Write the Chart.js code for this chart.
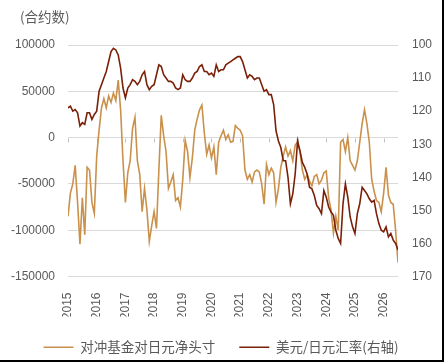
<!DOCTYPE html>
<html>
<head>
<meta charset="utf-8">
<script src="https://cdn.jsdelivr.net/npm/chart.js@4/dist/chart.umd.min.js"></script>
<style>
  html, body { margin: 0; padding: 0; background: #fff; }
  #wrap { width: 444px; height: 362px; box-sizing: border-box; border-right: 2px solid #000; border-bottom: 2px solid #000; }
</style>
</head>
<body>
<div id="wrap"><canvas id="myChart" width="442" height="360"></canvas></div>
<script>
// monthly samples, Jan 2015 .. Jul 2026
const START_YEAR = 2015;
const yearTicks = [2015, 2016, 2017, 2018, 2019, 2020, 2021, 2022, 2023, 2024, 2025, 2026];

// hedge fund net JPY position (contracts)
const netPosition = [
  -85000, -60000, -50000, -30000, -70000, -115000, -65000, -105000, -32000, -35000, -70000, -82000,
  -20000, 8000, 32000, 42000, 32000, 45000, 38000, 48000, 40000, 62000, 30000, -25000,
  -70000, -38000, -25000, 10000, 22000, -25000, -40000, -80000, -55000, -78000, -112000, -95000,
  -80000, -98000, -35000, 24000, 2000, -15000, -55000, -48000, -40000, -68000, -65000, -75000,
  -45000, -3000, -15000, -43000, -22000, 8000, 20000, 30000, 35000, 5000, -18000, -8000,
  -22000, -10000, -40000, -5000, 2000, 8000, -2000, 3000, -5000, -4000, 13000, 10000,
  8000, 2000, -35000, -45000, -40000, -48000, -37000, -35000, -37000, -50000, -72000, -29000,
  -40000, -33000, -38000, -70000, -55000, -32000, -20000, -10000, -20000, -14000, -25000, -8000,
  -5000, -15000, -35000, -45000, -40000, -47000, -52000, -42000, -40000, -50000, -46000, -38000,
  -36000, -65000, -78000, -103000, -85000, -100000, -5000, -2000, -15000, 0, -25000, -30000,
  -35000, -25000, -5000, 15000, 30000, 15000, -5000, -45000, -58000, -68000, -70000, -80000,
  -60000, -32000, -62000, -70000, -72000, -100000, -135000
];

// USD/JPY (right axis, inverted)
const usdJpy = [
  119, 118.5, 120, 119.5, 120.5, 124.5, 123.5, 124, 120.5, 120.5, 122.5, 121,
  120, 114, 112, 110, 108, 105, 102, 101, 101.5, 103, 107, 113,
  116, 113, 112, 110.5, 111, 112, 111, 109, 108, 112, 113.5, 112.5,
  112, 109, 106, 106.5, 109, 110, 111, 111, 111.5, 113, 113.5, 113,
  109, 110.5, 111, 111, 110, 108.5, 108, 106.5, 106, 108, 108, 109,
  108.5, 109.5, 106, 108, 107.5, 107.5, 106, 105.5, 105, 104.5, 104, 103.5,
  103.5, 105, 107.5, 110, 109, 109.5, 110.5, 110, 110, 112, 114, 113.5,
  115, 115, 118, 126, 129, 131, 135, 135, 140, 148, 145, 139,
  129, 132, 135.5, 137, 139, 143, 143.5, 145.5, 148.5, 149.5, 151, 144,
  146, 149, 150.5, 151.5, 156, 158.5, 160, 148, 142, 146, 152, 155,
  157, 151, 148, 143, 144, 145, 146.5, 147.5, 147, 151, 154, 156,
  156.5, 155, 158, 157, 159, 160, 162
];

const TAN = 'rgb(201, 145, 76)';
const MAROON = 'rgb(122, 32, 8)';
const TEXT = '#595959';
const GRID = '#d9d9d9';

const toPoints = arr => arr.map((v, i) => ({x: START_YEAR + i / 12, y: v}));

const titlePlugin = {
  id: 'unitTitle',
  afterDraw(chart) {
    const ctx = chart.ctx;
    ctx.save();
    ctx.fillStyle = TEXT;
    ctx.font = '13.5px "Noto Sans CJK SC"';
    ctx.textBaseline = 'middle';
    ctx.fillText('(合约数)', 20, 17);
    ctx.restore();
  }
};

// small tick marks where the category axis crosses at 0
const zeroTicks = {
  id: 'zeroTicks',
  beforeDatasetsDraw(chart) {
    const {ctx, scales: {x, y}} = chart;
    const y0 = Math.round(y.getPixelForValue(0)) + 0.5;
    ctx.save();
    ctx.strokeStyle = '#bfbfbf';
    ctx.lineWidth = 1;
    ctx.beginPath();
    yearTicks.forEach(t => {
      const px = Math.round(x.getPixelForValue(t)) + 0.5;
      ctx.moveTo(px, y0);
      ctx.lineTo(px, y0 + 4);
    });
    ctx.stroke();
    ctx.restore();
  }
};

const config = {
  type: 'line',
  data: {
    datasets: [
      {
        label: '对冲基金对日元净头寸',
        data: toPoints(netPosition),
        borderColor: TAN,
        backgroundColor: TAN,
        borderWidth: 1.6,
        pointRadius: 0,
        tension: 0,
        yAxisID: 'y',
        order: 1
      },
      {
        label: '美元/日元汇率(右轴)',
        data: toPoints(usdJpy),
        borderColor: MAROON,
        backgroundColor: MAROON,
        borderWidth: 1.6,
        pointRadius: 0,
        tension: 0,
        yAxisID: 'y1',
        order: 0
      }
    ]
  },
  options: {
    responsive: false,
    animation: false,
    devicePixelRatio: 1,
    layout: {padding: {left: 0, right: 0, top: 45, bottom: -4}},
    plugins: {
      legend: {
        position: 'bottom',
        labels: {
          usePointStyle: true,
          pointStyle: 'line',
          pointStyleWidth: 30,
          boxHeight: 12,
          padding: 24,
          color: TEXT,
          font: {family: '"Noto Sans CJK SC"', size: 13.5},
          sort: (a, b) => a.datasetIndex - b.datasetIndex
        }
      },
      tooltip: {enabled: false}
    },
    scales: {
      x: {
        type: 'linear',
        min: 2015,
        max: 2026.5,
        afterBuildTicks: scale => { scale.ticks = yearTicks.map(v => ({value: v})); },
        afterFit: scale => { scale.height = 40; },
        grid: {display: false},
        border: {display: false},
        ticks: {
          autoSkip: false,
          minRotation: 90,
          maxRotation: 90,
          padding: 8,
          color: TEXT,
          font: {family: '"Liberation Sans"', size: 12},
          callback: v => String(v)
        }
      },
      y: {
        position: 'left',
        min: -150000,
        max: 100000,
        afterFit: scale => { scale.width = 68; },
        grid: {color: GRID, lineWidth: 1, drawTicks: false},
        border: {display: false},
        ticks: {
          stepSize: 50000,
          padding: 13,
          color: TEXT,
          font: {family: '"Liberation Sans"', size: 12},
          callback: v => String(v)
        }
      },
      y1: {
        position: 'right',
        reverse: true,
        min: 100,
        max: 170,
        afterFit: scale => { scale.width = 44; },
        grid: {display: false, drawTicks: false},
        border: {display: false},
        ticks: {
          stepSize: 10,
          padding: 14,
          color: TEXT,
          font: {family: '"Liberation Sans"', size: 12},
          callback: v => String(v)
        }
      }
    }
  },
  plugins: [titlePlugin, zeroTicks]
};

const myChart = new Chart(document.getElementById('myChart'), config);
</script>
</body>
</html>
